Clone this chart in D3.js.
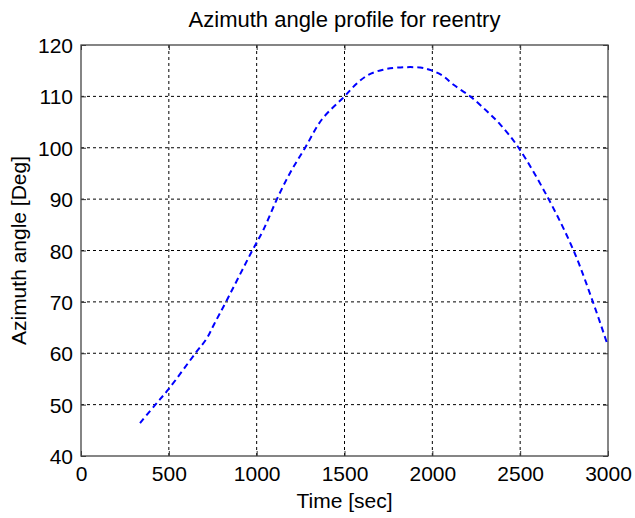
<!DOCTYPE html>
<html>
<head>
<meta charset="utf-8">
<script src="https://cdn.jsdelivr.net/npm/d3@7"></script>
<style>
  body { margin: 0; background: #fff; }
  text { font-family: "Liberation Sans", Arial, sans-serif; fill: #000; }
</style>
</head>
<body>
<div id="chart"></div>
<script>
// azimuth profile
const timeSec = [336, 421, 496, 649, 716, 760, 826, 972, 1038, 1114, 1190, 1276, 1371, 1500, 1570, 1636, 1720, 1800, 1931, 2000, 2064, 2119, 2216, 2311, 2387, 2491, 2662, 2804, 2914, 2998];
const azimuthDeg = [46.4, 49.9, 52.9, 59.9, 62.9, 65.8, 70.05, 79.8, 84.0, 89.9, 95.1, 100, 105.5, 110, 112.5, 114.2, 115.2, 115.6, 115.6, 115.0, 113.9, 112.3, 110, 107.1, 104.5, 100, 90, 80, 70, 61.6];
const xTicks = [0, 500, 1000, 1500, 2000, 2500, 3000];
const yTicks = [40, 50, 60, 70, 80, 90, 100, 110, 120];

const config = {
  width: 635,
  height: 518,
  margin: { top: 45, right: 27, bottom: 62, left: 81 },
};

const w = config.width - config.margin.left - config.margin.right;
const h = config.height - config.margin.top - config.margin.bottom;

const svg = d3.select('#chart').append('svg')
  .attr('width', config.width)
  .attr('height', config.height);

const g = svg.append('g')
  .attr('transform', `translate(${config.margin.left},${config.margin.top})`);

const x = d3.scaleLinear().domain([0, 3000]).range([0, w]);
const y = d3.scaleLinear().domain([40, 120]).range([h, 0]);

/* dashed grid */
g.append('g')
  .selectAll('line')
  .data(xTicks.slice(1, -1))
  .join('line')
  .attr('x1', (d) => x(d)).attr('x2', (d) => x(d))
  .attr('y1', 0).attr('y2', h)
  .attr('stroke', '#000')
  .attr('stroke-dasharray', '3,3');
g.append('g')
  .selectAll('line')
  .data(yTicks.slice(1, -1))
  .join('line')
  .attr('y1', (d) => y(d)).attr('y2', (d) => y(d))
  .attr('x1', 0).attr('x2', w)
  .attr('stroke', '#000')
  .attr('stroke-dasharray', '3,3');

/* axes, ticks point inward like matlab */
const xAxis = d3.axisBottom(x).tickValues(xTicks).tickFormat(d3.format('d'))
  .tickSizeInner(-5).tickSizeOuter(0).tickPadding(10);
const yAxis = d3.axisLeft(y).tickValues(yTicks).tickSizeInner(-5).tickSizeOuter(0).tickPadding(8);

const xg = g.append('g').attr('transform', `translate(0,${h})`).call(xAxis);
const yg = g.append('g').call(yAxis);
g.append('g').call(d3.axisTop(x).tickValues(xTicks).tickSizeInner(-5).tickSizeOuter(0).tickFormat(''));
g.append('g').attr('transform', `translate(${w},0)`)
  .call(d3.axisRight(y).tickValues(yTicks).tickSizeInner(-5).tickSizeOuter(0).tickFormat(''));

g.selectAll('.domain').remove();
g.selectAll('.tick line').attr('stroke', '#333');
[xg, yg].forEach((a) => a.selectAll('text')
  .style('font-family', '"Liberation Sans", Arial, sans-serif')
  .style('font-size', '21px')
  .attr('fill', '#000'));
yg.selectAll('text').attr('dy', '0.36em');

/* box */
g.append('rect')
  .attr('width', w).attr('height', h)
  .attr('fill', 'none')
  .attr('stroke', '#444')
  .attr('stroke-width', 1.3);

/* the curve */
const line = d3.line()
  .x((d) => x(d[0]))
  .y((d) => y(d[1]))
  .curve(d3.curveCatmullRom);

g.append('path')
  .datum(d3.zip(timeSec, azimuthDeg))
  .attr('d', line)
  .attr('fill', 'none')
  .attr('stroke', '#0000ff')
  .attr('stroke-width', 2)
  .attr('stroke-dasharray', '6,4');

/* titles */
svg.append('text')
  .attr('x', config.margin.left + w / 2)
  .attr('y', 27)
  .attr('text-anchor', 'middle')
  .style('font-size', '22px')
  .text('Azimuth angle profile for reentry');

svg.append('text')
  .attr('x', config.margin.left + w / 2)
  .attr('y', 508)
  .attr('text-anchor', 'middle')
  .style('font-size', '21px')
  .text('Time [sec]');

svg.append('text')
  .attr('transform', `translate(26,${config.margin.top + h / 2})rotate(-90)`)
  .attr('text-anchor', 'middle')
  .style('font-size', '21px')
  .text('Azimuth angle [Deg]');
</script>
</body>
</html>
